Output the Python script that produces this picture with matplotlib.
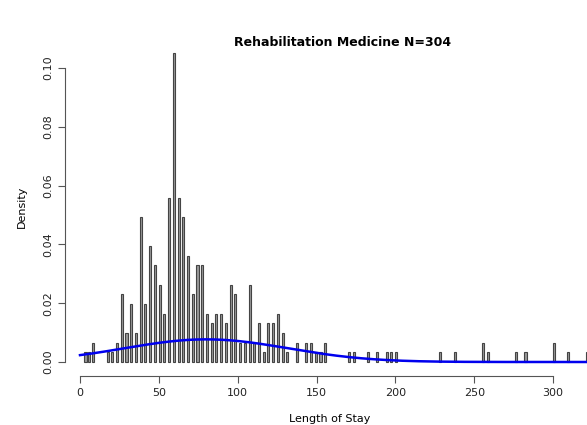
import numpy as np
import matplotlib
matplotlib.use("Agg")
import matplotlib.pyplot as plt

stay = [3, 5, 8, 17, 20, 23, 26, 29, 32, 35, 38, 41, 44, 47, 50, 53, 56, 59, 62, 65, 68, 71, 74, 77, 80,
        83, 86, 89, 92, 95, 98, 101, 104, 107, 110, 113, 116, 119, 122, 125, 128, 131, 137, 143, 146,
        149, 152, 155, 170, 173, 182, 188, 194, 197, 200, 228, 237, 255, 258, 276, 282, 300, 309, 321]
counts = [1, 1, 2, 1, 1, 2, 7, 3, 6, 3, 15, 6, 12, 10, 8, 5, 17, 32, 17, 15, 11, 7, 10, 10, 5,
          4, 5, 5, 4, 8, 7, 2, 2, 8, 2, 4, 1, 4, 4, 5, 3, 1, 2, 2, 2,
          1, 1, 2, 1, 1, 1, 1, 1, 1, 1, 1, 1, 2, 1, 1, 1, 2, 1, 1]
N = 304
fit_mean, fit_sd = 80.0, 51.8

W, H = 587, 425
fig = plt.figure(figsize=(W/100, H/100), dpi=100)
x0, x1 = 72, 587
y0, y1 = 366, 48
ax = fig.add_axes([x0/W, 1 - y0/H, (x1-x0)/W, (y0-y1)/H])
ppu = 1.577
ax.set_xlim((x0-80)/ppu, (x1-80)/ppu)
ax.set_ylim(-(y0-362)/2940, (362-y1)/2940)

dens = np.array(counts) / N
ax.bar(np.array(stay) + 0.5, dens, width=1.3, color="#999999", edgecolor="#444444", linewidth=0.8)
xs = np.linspace(0, 330, 500)
ax.plot(xs, np.exp(-(xs-fit_mean)**2/(2*fit_sd**2))/(np.sqrt(2*np.pi)*fit_sd), color="#0000ee", lw=1.8)

for s in ["top", "right"]:
    ax.spines[s].set_visible(False)
ax.spines["bottom"].set_position(("outward", 7))
ax.spines["left"].set_position(("outward", 5))
ax.spines["bottom"].set_bounds(0, 300)
ax.spines["left"].set_bounds(0, 0.10)
for s in ["bottom", "left"]:
    ax.spines[s].set_color("#555555")
ax.set_xticks([0, 50, 100, 150, 200, 250, 300])
ax.set_yticks([0, 0.02, 0.04, 0.06, 0.08, 0.10])
ax.set_yticklabels(["0.00", "0.02", "0.04", "0.06", "0.08", "0.10"], rotation=90, va="center")
ax.tick_params(labelsize=8, colors="#222222", length=5, color="#555555")
ax.set_xlabel("Length of Stay", fontsize=8, labelpad=12)
ax.set_ylabel("Density", fontsize=8, labelpad=12)
fig.text(343/W, 1 - 42/H, "Rehabilitation Medicine N=304", ha="center", va="center",
         fontsize=9, fontweight="bold")
fig.savefig("out.png", dpi=100)
